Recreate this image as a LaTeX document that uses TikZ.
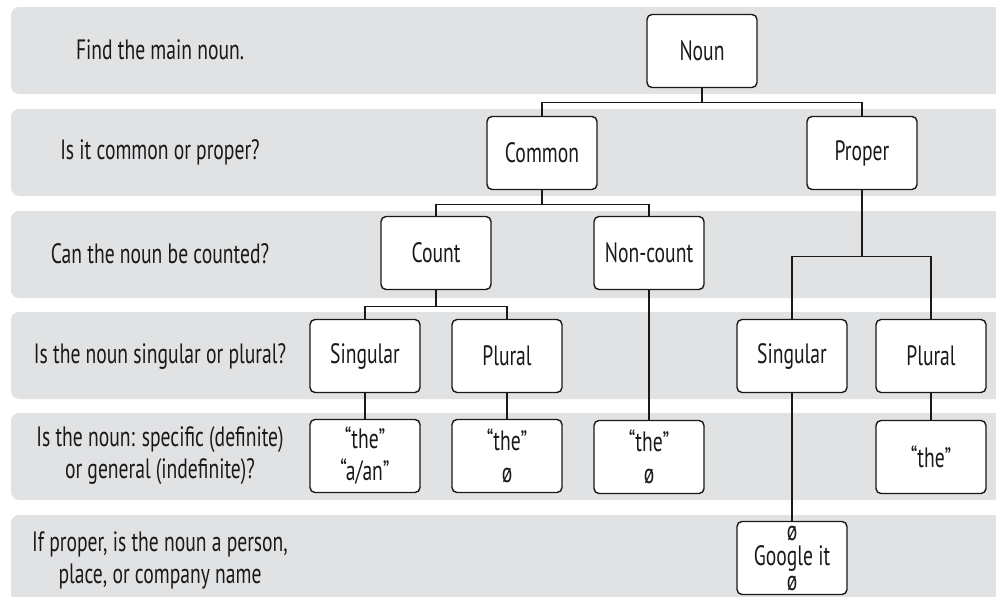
\documentclass[tikz,border=0pt]{standalone}
\usepackage{fontspec}
\setmainfont{PT Sans}[FakeStretch=0.7]
\usetikzlibrary{calc}
\definecolor{bandgray}{RGB}{225,226,228}
\tikzset{
	wordbox/.style={draw, fill=white, rounded corners=5pt, line width=1.4pt, minimum width=110pt, minimum height=73pt, align=center, inner sep=2pt},
	question/.style={align=center, inner sep=0pt},
	link/.style={line width=1.4pt}
}

\begin{document}
\begin{tikzpicture}[x=1pt, y=-1pt, font=\fontsize{28}{32}\selectfont, color=black!90]
		%%%%% START %%%%%
		
		\useasboundingbox (0,0) rectangle (996,597);
		\clip (0,0) rectangle (996,597);
		
		% grey bands
		\foreach \t in {7,109,211,312,413,515}
			\fill[bandgray, rounded corners=8pt] (11,\t) rectangle (1010,\t+87);
		
		% questions
		\node[question] (qfind) at (160,50) {Find the main noun.};
		\node[question] (qkind) at (160,152) {Is it common or proper?};
		\node[question] (qcount) at (160,254) {Can the noun be counted?};
		\node[question] (qnumber) at (160,356) {Is the noun singular or plural?};
		\node[question] (qdef) at (160,456) {Is the noun: specific (definite)\\or general (indefinite)?};
		\node[question] (qname) at (160,560) {If proper, is the noun a person,\\place, or company name};
		
		% tree
		\node[wordbox] (noun) at (702,51) {Noun};
		\node[wordbox] (common) at (542,153) {Common};
		\node[wordbox] (proper) at (862,153) {Proper};
		\node[wordbox] (count) at (436,253) {Count};
		\node[wordbox] (noncount) at (649,253) {Non-count};
		\node[wordbox] (csing) at (365,356) {Singular};
		\node[wordbox] (cplur) at (507,356) {Plural};
		\node[wordbox] (psing) at (792,356) {Singular};
		\node[wordbox] (pplur) at (931,356) {Plural};
		\node[wordbox] (csingart) at (365,456) {“the”\\“a/an”};
		\node[wordbox] (cplurart) at (507,456) {“the”\\ø};
		\node[wordbox] (noncountart) at (649,457) {“the”\\ø};
		\node[wordbox] (pplurart) at (931,457) {“the”};
		\node[wordbox, inner sep=0pt, font=\fontsize{28}{25}\selectfont] (google) at (792,558) {ø\\Google it\\ø};
		
		\draw[link] (noun.south) -- ++(0,14) -| (common.north);
		\draw[link] (noun.south) -- ++(0,14) -| (proper.north);
		\draw[link] (common.south) -- ++(0,14) -| (count.north);
		\draw[link] (common.south) -- ++(0,14) -| (noncount.north);
		\draw[link] (proper.south) -- ++(0,66) -| (psing.north);
		\draw[link] (proper.south) -- ++(0,66) -| (pplur.north);
		\draw[link] (count.south) -- ++(0,16) -| (csing.north);
		\draw[link] (count.south) -- ++(0,16) -| (cplur.north);
		
		\draw[link] (csing) -- (csingart);
		\draw[link] (cplur) -- (cplurart);
		\draw[link] (noncount) -- (noncountart);
		\draw[link] (pplur) -- (pplurart);
		\draw[link] (psing) -- (google);
		
		%%%%% END %%%%%
\end{tikzpicture}
\end{document}
